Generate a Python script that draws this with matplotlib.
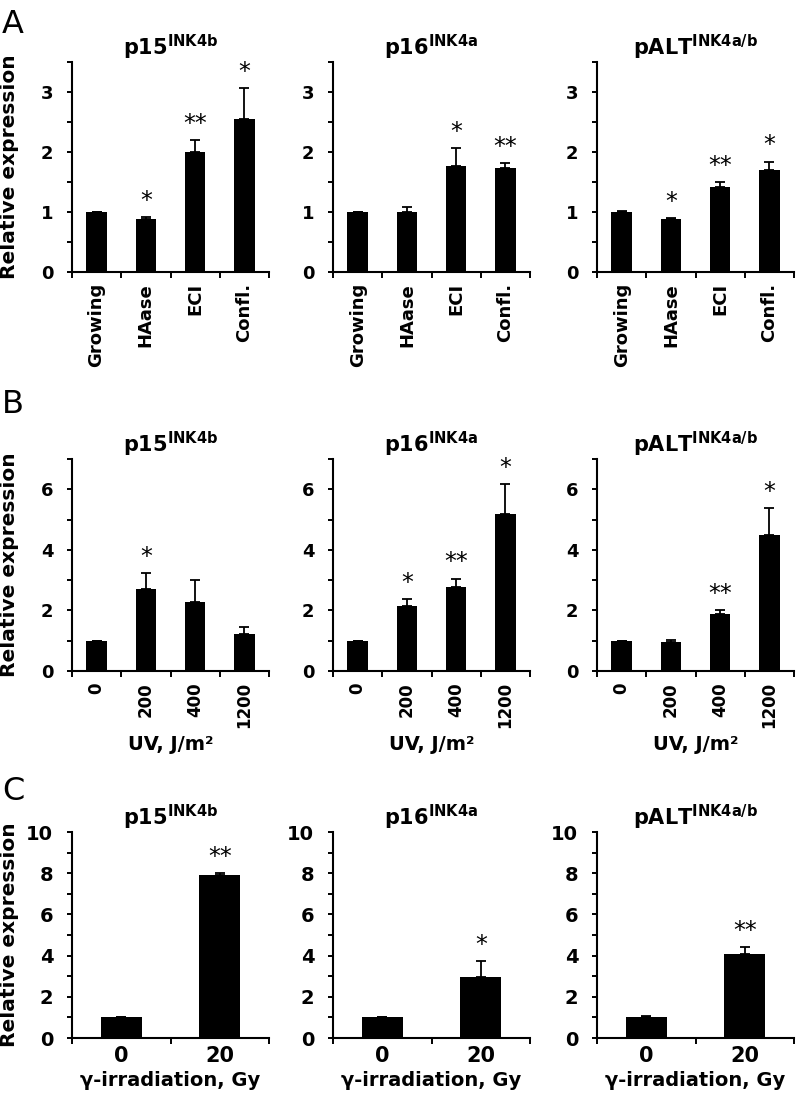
import numpy as np
import matplotlib
matplotlib.use("Agg")
import matplotlib.pyplot as plt
from matplotlib.ticker import MultipleLocator

plt.rcParams["font.family"] = ["DejaVu Sans"]
plt.rcParams["mathtext.fontset"] = "dejavusans"

# ---- data ----
genes = ["p15", "p16", "pALT"]
gene_sup = ["INK4b", "INK4a", "INK4a/b"]

# A: growth conditions
cats_a = ["Growing", "HAase", "ECI", "Confl."]
a_p15 = [1.0, 0.89, 2.0, 2.55]
a_p15_err = [0.0, 0.02, 0.2, 0.51]
a_p15_sig = ["", "*", "**", "*"]
a_p16 = [1.0, 1.0, 1.77, 1.73]
a_p16_err = [0.0, 0.08, 0.3, 0.09]
a_p16_sig = ["", "", "*", "**"]
a_palt = [1.0, 0.88, 1.42, 1.70]
a_palt_err = [0.01, 0.02, 0.08, 0.14]
a_palt_sig = ["", "*", "**", "*"]

# B: UV dose, J/m2
cats_b = ["0", "200", "400", "1200"]
b_p15 = [1.0, 2.72, 2.28, 1.22]
b_p15_err = [0.0, 0.52, 0.72, 0.23]
b_p15_sig = ["", "*", "", ""]
b_p16 = [1.0, 2.13, 2.78, 5.2]
b_p16_err = [0.0, 0.25, 0.27, 0.96]
b_p16_sig = ["", "*", "**", "*"]
b_palt = [1.0, 0.97, 1.88, 4.5]
b_palt_err = [0.0, 0.07, 0.14, 0.88]
b_palt_sig = ["", "", "**", "*"]

# C: gamma-irradiation, Gy
cats_c = ["0", "20"]
c_p15 = [1.0, 7.92]
c_p15_err = [0.03, 0.08]
c_p15_sig = ["", "**"]
c_p16 = [1.0, 2.97]
c_p16_err = [0.04, 0.76]
c_p16_sig = ["", "*"]
c_palt = [1.02, 4.1]
c_palt_err = [0.05, 0.33]
c_palt_sig = ["", "**"]

W, H = 799, 1098
fig = plt.figure(figsize=(W / 100, H / 100), dpi=100)

col_left = [72, 333, 597]
col_w = 197
rows = {"A": (62, 272), "B": (459, 671), "C": (832, 1038)}


def make_ax(left, top, bottom):
    return fig.add_axes([left / W, 1 - bottom / H, col_w / W, (bottom - top) / H])


def draw_panel(ax, cats, vals, errs, sigs, ymax, major, minor, ytick_fs,
               xtick_fs, rot, xpad, title, star_off):
    n = len(cats)
    x = np.arange(n)
    ax.bar(x, vals, width=0.42, color="black", zorder=2)
    ax.errorbar(x, vals, yerr=[np.zeros(n), errs], fmt="none", ecolor="black",
                elinewidth=1.3, capsize=3.5, capthick=1.3, zorder=3)
    for xi, v, e, s in zip(x, vals, errs, sigs):
        if s:
            ax.annotate(s, (xi, v + e), xytext=(0, star_off), textcoords="offset points",
                        ha="center", va="bottom", fontsize=17, fontweight="normal")
    ax.set_xlim(-0.5, n - 0.5)
    ax.set_ylim(0, ymax)
    for side in ["top", "right"]:
        ax.spines[side].set_visible(False)
    for side in ["left", "bottom"]:
        ax.spines[side].set_linewidth(1.5)
    ax.yaxis.set_major_locator(MultipleLocator(major))
    ax.yaxis.set_minor_locator(MultipleLocator(minor))
    ax.tick_params(axis="y", which="major", length=3.5, width=1.4, pad=10,
                   labelsize=ytick_fs)
    ax.tick_params(axis="y", which="minor", length=3.5, width=1.4)
    for lab in ax.get_yticklabels():
        lab.set_fontweight("bold")
    ax.set_xticks(np.arange(n + 1) - 0.5)
    ax.set_xticklabels([])
    ax.set_xticks(x, minor=True)
    ax.set_xticklabels(cats, minor=True, rotation=rot, fontsize=xtick_fs,
                       fontweight="bold")
    ax.tick_params(axis="x", which="major", length=4, width=1.4)
    ax.tick_params(axis="x", which="minor", length=0, pad=xpad)
    ax.set_title(title, fontsize=15, pad=4)


def title_of(i):
    return r"$\mathbf{%s}^{\mathbf{%s}}$" % (genes[i], gene_sup[i])


# ---- row A ----
top, bot = rows["A"]
a_data = [(a_p15, a_p15_err, a_p15_sig), (a_p16, a_p16_err, a_p16_sig),
          (a_palt, a_palt_err, a_palt_sig)]
for i, (v, e, s) in enumerate(a_data):
    ax = make_ax(col_left[i], top, bot)
    draw_panel(ax, cats_a, v, e, s, 3.5, 1, 0.5, 13, 13, 90, 8, title_of(i), 3)

# ---- row B ----
top, bot = rows["B"]
b_data = [(b_p15, b_p15_err, b_p15_sig), (b_p16, b_p16_err, b_p16_sig),
          (b_palt, b_palt_err, b_palt_sig)]
for i, (v, e, s) in enumerate(b_data):
    ax = make_ax(col_left[i], top, bot)
    draw_panel(ax, cats_b, v, e, s, 7, 2, 1, 13, 12, 90, 8, title_of(i), 3)
    ax.set_xlabel("UV, J/m²", fontsize=14, fontweight="bold", labelpad=5)

# ---- row C ----
top, bot = rows["C"]
c_data = [(c_p15, c_p15_err, c_p15_sig), (c_p16, c_p16_err, c_p16_sig),
          (c_palt, c_palt_err, c_palt_sig)]
for i, (v, e, s) in enumerate(c_data):
    ax = make_ax(col_left[i], top, bot)
    draw_panel(ax, cats_c, v, e, s, 10, 2, 1, 14, 15, 0, 6, title_of(i), 3)
    ax.set_xlabel("γ-irradiation, Gy", fontsize=14, fontweight="bold", labelpad=3)

# y labels and panel letters
for top, bot in rows.values():
    fig.text(10 / W, 1 - (top + bot) / 2 / H, "Relative expression", rotation=90,
             ha="center", va="center", fontsize=14.5, fontweight="bold")
for letter, y_b in [("A", 33), ("B", 413), ("C", 800)]:
    fig.text(2 / W, 1 - y_b / H, letter, fontsize=23, ha="left", va="baseline")

fig.savefig("out.png", dpi=100)
